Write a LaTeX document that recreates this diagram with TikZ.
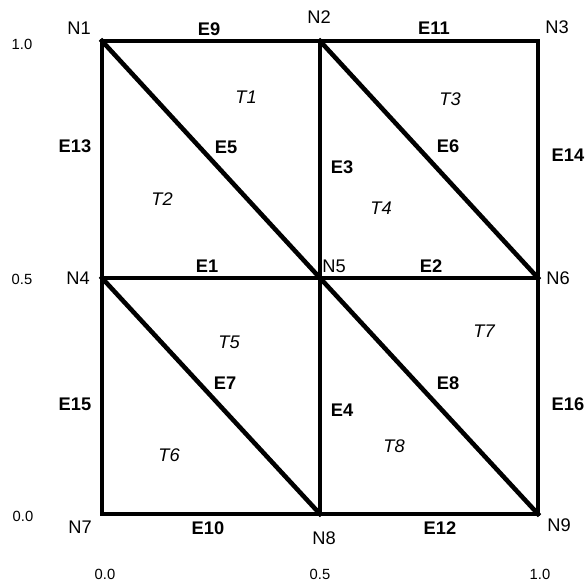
\documentclass[tikz,border=0pt]{standalone}
\usepackage{fontspec}
\setmainfont{Liberation Sans}
\usetikzlibrary{positioning}

\begin{document}
\begin{tikzpicture}[
    x=0.02cm, y=-0.02cm,
    edge/.style={line width=2.6pt, line cap=rect, black},
    vertex/.style={inner sep=0pt, font=\fontsize{10.4}{12}\selectfont},
    elabel/.style={inner sep=0pt, font=\fontsize{10.4}{12}\selectfont\bfseries},
    tlabel/.style={inner sep=0pt, font=\fontsize{10.4}{12}\selectfont\itshape},
    tick/.style={inner sep=0pt, font=\fontsize{8.4}{10}\selectfont}
]
\useasboundingbox (0,0) rectangle (586,582);

% Grid points
\coordinate (n1) at (102,41);
\coordinate (n2) at (320,41);
\coordinate (n3) at (538,41);
\coordinate (n4) at (102,278);
\coordinate (n5) at (320,278);
\coordinate (n6) at (538,278);
\coordinate (n7) at (102,514);
\coordinate (n8) at (320,514);
\coordinate (n9) at (538,514);

% Edges
\draw[edge] (n4) -- (n5);   % E1
\draw[edge] (n5) -- (n6);   % E2
\draw[edge] (n2) -- (n5);   % E3
\draw[edge] (n5) -- (n8);   % E4
\draw[edge] (n1) -- (n5);   % E5
\draw[edge] (n2) -- (n6);   % E6
\draw[edge] (n4) -- (n8);   % E7
\draw[edge] (n5) -- (n9);   % E8
\draw[edge] (n1) -- (n2);   % E9
\draw[edge] (n7) -- (n8);   % E10
\draw[edge] (n2) -- (n3);   % E11
\draw[edge] (n8) -- (n9);   % E12
\draw[edge] (n1) -- (n4);   % E13
\draw[edge] (n3) -- (n6);   % E14
\draw[edge] (n4) -- (n7);   % E15
\draw[edge] (n6) -- (n9);   % E16

% Node labels
\node[vertex] (ln1) at (79,28) {N1};
\node[vertex] (ln2) at (319,17) {N2};
\node[vertex] (ln3) at (557,27) {N3};
\node[vertex] (ln4) at (78,278) {N4};
\node[vertex] (ln5) at (334,266) {N5};
\node[vertex] (ln6) at (558,278) {N6};
\node[vertex] (ln7) at (80,527) {N7};
\node[vertex] (ln8) at (324,538) {N8};
\node[vertex] (ln9) at (559,525) {N9};

% Edge labels
\node[elabel] (le1) at (207,266) {E1};
\node[elabel] (le2) at (431,266) {E2};
\node[elabel] (le3) at (342,167) {E3};
\node[elabel] (le4) at (342,410) {E4};
\node[elabel] (le5) at (226,147) {E5};
\node[elabel] (le6) at (448,146) {E6};
\node[elabel] (le7) at (225,383) {E7};
\node[elabel] (le8) at (448,383) {E8};
\node[elabel] (le9) at (209,29) {E9};
\node[elabel] (le10) at (208,528) {E10};
\node[elabel] (le11) at (434,28) {E11};
\node[elabel] (le12) at (440,528) {E12};
\node[elabel] (le13) at (75,146) {E13};
\node[elabel] (le14) at (568,155) {E14};
\node[elabel] (le15) at (75,404) {E15};
\node[elabel] (le16) at (568,404) {E16};

% Triangle labels
\node[tlabel] (lt1) at (246,97) {T1};
\node[tlabel] (lt2) at (162,199) {T2};
\node[tlabel] (lt3) at (450,99) {T3};
\node[tlabel] (lt4) at (381,208) {T4};
\node[tlabel] (lt5) at (229,342) {T5};
\node[tlabel] (lt6) at (169,455) {T6};
\node[tlabel] (lt7) at (484,331) {T7};
\node[tlabel] (lt8) at (394,446) {T8};

% Axis values
\node[tick] (y1) at (22,44) {1.0};
\node[tick] (y2) at (22,279) {0.5};
\node[tick] (y3) at (23,516) {0.0};
\node[tick] (x1) at (105,574) {0.0};
\node[tick] (x2) at (320,574) {0.5};
\node[tick] (x3) at (540,574) {1.0};

\end{tikzpicture}
\end{document}
